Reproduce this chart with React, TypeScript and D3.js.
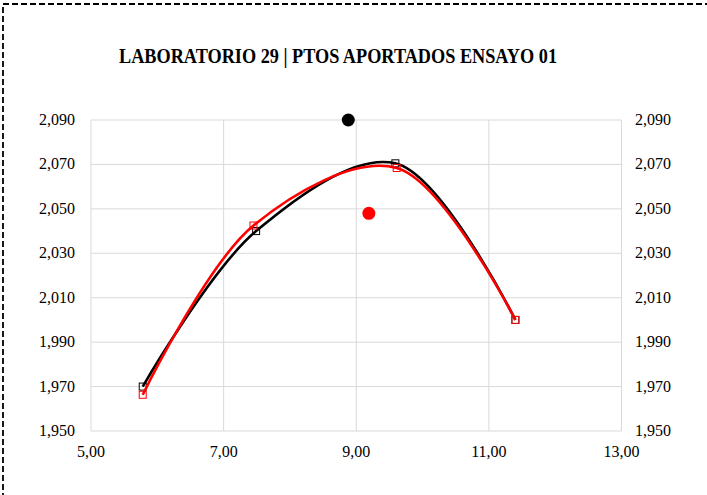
import React from "react";
import * as d3 from "d3";

const title = "LABORATORIO 29 | PTOS APORTADOS ENSAYO 01";
const xTicks = [5, 7, 9, 11, 13];
const yTicks = [1950, 1970, 1990, 2010, 2030, 2050, 2070, 2090];

const blackX = [5.78, 7.49, 9.59, 11.4];
const blackY = [1970, 2040, 2070.5, 2000];
const redX = [5.78, 7.45, 9.61, 11.4];
const redY = [1966.3, 2042.5, 2068.4, 2000];
const blackDot = { x: 8.88, y: 2090 };
const redDot = { x: 9.19, y: 2048 };

const W = 707;
const H = 495;
const L = 91, R = 621.5, T = 120, B = 431;

const fmtY = (v: number) => d3.format(",")(v);
const fmtX = (v: number) => v.toFixed(2).replace(".", ",");

export default function App() {
  const x = d3.scaleLinear().domain([5, 13]).range([L, R]);
  const y = d3.scaleLinear().domain([1950, 2090]).range([B, T]);
  const line = d3
    .line<[number, number]>()
    .x((d) => x(d[0]))
    .y((d) => y(d[1]))
    .curve(d3.curveCatmullRom.alpha(0.5));
  const blackPts: [number, number][] = blackX.map((v, i) => [v, blackY[i]]);
  const redPts: [number, number][] = redX.map((v, i) => [v, redY[i]]);
  const font = "'Liberation Serif', 'DejaVu Serif', serif";
  const ms = 7;
  return (
    <svg
      width={W}
      height={H}
      style={{ position: "absolute", left: 0, top: 0, background: "#fff" }}
      fontFamily={font}
    >
      <rect x={0} y={0} width={W} height={H} fill="#fff" />
      <rect
        x={3}
        y={4}
        width={W + 20}
        height={H + 20}
        fill="none"
        stroke="#000"
        strokeWidth={1.8}
        strokeDasharray="6,3"
      />
      <text
        x={338}
        y={63}
        textAnchor="middle"
        fontSize={20}
        fontWeight="bold"
        textLength={438}
        lengthAdjust="spacingAndGlyphs"
      >
        {title}
      </text>
      {yTicks.map((t) => (
        <line key={"gy" + t} x1={L} x2={R} y1={y(t)} y2={y(t)} stroke="#d9d9d9" strokeWidth={1} />
      ))}
      {xTicks.map((t) => (
        <line key={"gx" + t} x1={x(t)} x2={x(t)} y1={T} y2={B} stroke="#d9d9d9" strokeWidth={1} />
      ))}
      {yTicks.map((t) => (
        <text key={"yl" + t} x={75} y={y(t) + 5} textAnchor="end" fontSize={16}>
          {fmtY(t)}
        </text>
      ))}
      {yTicks.map((t) => (
        <text key={"yr" + t} x={635} y={y(t) + 5} textAnchor="start" fontSize={16}>
          {fmtY(t)}
        </text>
      ))}
      {xTicks.map((t) => (
        <text key={"xl" + t} x={x(t)} y={457} textAnchor="middle" fontSize={16}>
          {fmtX(t)}
        </text>
      ))}
      <path d={line(blackPts) || ""} fill="none" stroke="#000" strokeWidth={2.6} />
      {blackPts.map((p, i) => (
        <rect
          key={"bm" + i}
          x={x(p[0]) - ms / 2}
          y={y(p[1]) - ms / 2}
          width={ms}
          height={ms}
          fill="none"
          stroke="#000"
          strokeWidth={1}
        />
      ))}
      <path d={line(redPts) || ""} fill="none" stroke="#ff0000" strokeWidth={2.6} />
      {redPts.map((p, i) => (
        <rect
          key={"rm" + i}
          x={x(p[0]) - ms / 2}
          y={y(p[1]) - ms / 2}
          width={ms}
          height={ms}
          fill="none"
          stroke="#ff0000"
          strokeWidth={1}
        />
      ))}
      <circle cx={x(blackDot.x)} cy={y(blackDot.y)} r={6.5} fill="#000" />
      <circle cx={x(redDot.x)} cy={y(redDot.y)} r={6.5} fill="#ff0000" />
    </svg>
  );
}
